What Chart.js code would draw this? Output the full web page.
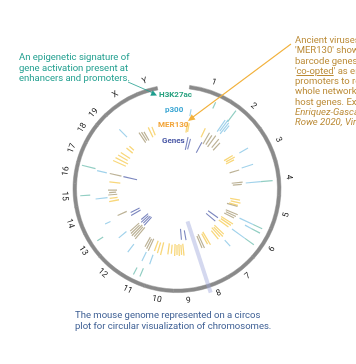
<!DOCTYPE html>
<html><head><meta charset="utf-8">
<script src="https://cdn.jsdelivr.net/npm/chart.js@4.4.0/dist/chart.umd.min.js"></script>
<style>
html,body{margin:0;padding:0;background:#fff;}
#wrap{position:relative;width:356px;height:364px;overflow:hidden;background:#fff;font-family:Roboto,"Noto Sans",sans-serif;}
canvas{position:absolute;}
#ring{left:47px;top:59px;}
#tracks{left:0;top:0;}
.note{position:absolute;font-size:9.5px;line-height:10.5px;white-space:nowrap;}
.tl{position:absolute;font-size:8px;font-weight:bold;line-height:9px;white-space:nowrap;}
svg{position:absolute;left:0;top:0;}
</style></head>
<body>
<div id="wrap">
  <canvas id="ring" width="260" height="260"></canvas>
  <canvas id="tracks" width="356" height="364"></canvas>
  <div class="note" style="left:19px;top:52px;color:#1f9e8e;">An epigenetic signature of<br>gene activation present at<br>enhancers and promoters.</div>
  <div class="note" style="left:295px;top:35px;color:#bb8a35;line-height:10.3px;">Ancient viruses called<br>'MER130' shown to<br>barcode genes were<br>'<u>co-opted</u>' as enhancers<br>promoters to regulate<br>whole networks of<br>host genes. Example:<br><i>Enriquez-Gasca &amp;</i><br><i>Rowe 2020, Viruses</i></div>
  <div class="note" style="left:75px;top:309px;color:#3a5c92;line-height:11px;">The mouse genome represented on a circos<br>plot for circular visualization of chromosomes.</div>
  <div class="tl" style="left:159px;top:90px;color:#27a17f;">H3K27ac</div>
  <div class="tl" style="left:165px;top:105px;color:#3ba6d3;">p300</div>
  <div class="tl" style="left:158px;top:119.5px;color:#f2a53a;">MER130</div>
  <div class="tl" style="left:162px;top:135.5px;color:#4a58a6;">Genes</div>
  <svg width="356" height="364">
    <line x1="128" y1="82" x2="152" y2="92.5" stroke="#1f9e8e" stroke-width="0.8"/>
    <polygon points="157,95.5 150.3,95.8 152.7,90.3" fill="#1f9e8e"/>
    <line x1="291" y1="44" x2="193" y2="117" stroke="#f2b23e" stroke-width="1.1"/>
    <polygon points="188,121 195.5,119.4 191.7,114.2" fill="#f2b23e"/>
  </svg>
</div>
<script>
// Chromosome ring
const chromosomes = ['1','2','3','4','5','6','7','8','9','10','11','12','13','14','15','16','17','18','19','X','Y'];
const chromSizes = [195,182,160,157,152,150,145,130,125,131,122,120,121,125,104,98,95,91,61,171,92];

// Tracks: angle (degrees clockwise from top), inner and outer radius of each mark
const genesAngle = [12, 15, 28, 125, 130, 170, 175, 222, 224.5, 227, 229.5, 240, 243, 283];
const genesInner = [40, 41, 41, 38, 38, 42, 40, 38, 38, 39, 38, 42, 42, 41];
const genesOuter = [53, 52, 53, 50, 50, 52, 51, 49, 48, 49, 47, 53, 52, 55];

const mer130Angle = [9, 10.5, 25, 59, 61, 63, 100, 102.5, 105, 122, 124, 126.5, 134, 136, 138, 140.5, 149, 151, 174, 176, 178, 180, 182, 185, 188, 194, 197, 200, 259.5, 262, 276, 294, 297, 300, 303, 309, 312, 335, 338];
const mer130Inner = [57, 58, 57, 55, 56, 55, 54, 55, 54, 52, 53, 52, 52, 53, 52, 54, 50, 51, 55, 56, 55, 56, 55, 56, 55, 55, 56, 55, 59, 60, 57, 56, 55, 57, 56, 57, 58, 57, 58];
const mer130Outer = [68, 67, 67, 65, 66, 64, 64, 65, 63, 66, 65, 64, 65, 66, 64, 65, 65, 63, 67, 66, 67, 66, 67, 65, 66, 68, 67, 66, 69, 68, 68, 70, 69, 68, 67, 65, 64, 68, 67];

const mer130DenseAngle = [30, 33, 36, 40, 43, 73, 84, 86, 106, 113, 115, 117, 155, 157, 205, 207, 209, 220, 222, 224, 226, 228, 246, 265, 267, 269, 283, 326, 328, 330];
const mer130DenseInner = [52, 53, 52, 54, 53, 55, 55, 56, 52, 53, 54, 53, 50, 51, 55, 56, 55, 50, 51, 50, 52, 51, 55, 60, 61, 60, 57, 56, 57, 56];
const mer130DenseOuter = [65, 64, 66, 65, 63, 65, 66, 65, 63, 66, 65, 64, 65, 64, 68, 67, 66, 65, 64, 65, 64, 63, 65, 69, 68, 69, 69, 68, 67, 66];

const p300Angle = [10, 35, 36.5, 38, 39.5, 60, 72, 85, 115, 118, 126, 137, 200, 206, 218, 230, 244, 263, 283, 316];
const p300Inner = [74, 70, 72, 70, 74, 72, 68, 69, 69, 77, 68, 70, 70, 70, 70, 66, 74, 70, 72, 72];
const p300Outer = [81, 84, 86, 84, 82, 82, 80, 84, 84, 84, 84, 78, 80, 80, 80, 76, 80, 82, 82, 83];

const h3k27acAngle = [24, 37, 85, 115, 118, 126, 203, 207, 237, 266, 284];
const h3k27acInner = [88, 84, 84, 84, 84, 84, 86, 88, 88, 87, 84];
const h3k27acOuter = [95, 98, 96, 94, 94, 95, 95, 96, 95, 97, 98];

const bandAngle = [162];
const bandInner = [34];
const bandOuter = [109];

function segments(angles, inner, outer) {
  const pts = [];
  angles.forEach((deg, i) => {
    const a = deg * Math.PI / 180;
    pts.push({x: inner[i] * Math.sin(a), y: inner[i] * Math.cos(a)});
    pts.push({x: outer[i] * Math.sin(a), y: outer[i] * Math.cos(a)});
    pts.push({x: null, y: null});
  });
  return pts;
}

function track(label, angles, inner, outer, color, width) {
  return {label, data: segments(angles, inner, outer), showLine: true, spanGaps: false,
    borderColor: color, borderWidth: width, pointRadius: 0, borderCapStyle: 'butt', tension: 0};
}

const chromLabels = {
  id: 'chromLabels',
  afterDatasetsDraw(chart) {
    const meta = chart.getDatasetMeta(0);
    const ctx = chart.ctx;
    ctx.save();
    ctx.font = '8.5px Roboto, "Noto Sans", sans-serif';
    ctx.fillStyle = '#222';
    ctx.textAlign = 'center';
    ctx.textBaseline = 'middle';
    meta.data.forEach((arc, i) => {
      const p = arc.getProps(['x', 'y', 'startAngle', 'endAngle', 'outerRadius'], true);
      const mid = (p.startAngle + p.endAngle) / 2;
      const R = p.outerRadius + 8.5;
      const px = p.x + R * Math.cos(mid), py = p.y + R * Math.sin(mid);
      let rot = mid + Math.PI / 2;
      if (Math.sin(mid) > 0.02) rot -= Math.PI;
      ctx.save();
      ctx.translate(px, py);
      ctx.rotate(rot);
      ctx.fillText(chart.data.labels[i], 0, 0);
      ctx.restore();
    });
    ctx.restore();
  }
};

new Chart(document.getElementById('ring'), {
  type: 'doughnut',
  data: {labels: chromosomes, datasets: [{data: chromSizes, backgroundColor: '#8a8a8a', borderColor: '#8a8a8a', borderWidth: 0.5}]},
  options: {
    responsive: false, animation: false, rotation: 7, circumference: 342,
    radius: 104, cutout: '96.6%',
    layout: {padding: 0},
    plugins: {legend: {display: false}, tooltip: {enabled: false}}
  },
  plugins: [chromLabels]
});

new Chart(document.getElementById('tracks'), {
  type: 'scatter',
  data: {datasets: [
    track('p300', p300Angle, p300Inner, p300Outer, 'rgba(130,195,228,0.75)', 1.2),
    track('H3K27ac', h3k27acAngle, h3k27acInner, h3k27acOuter, 'rgba(110,190,175,0.75)', 1.2),
    track('MER130', mer130Angle, mer130Inner, mer130Outer, 'rgba(246,205,90,0.8)', 1.3),
    track('MER130 dense', mer130DenseAngle, mer130DenseInner, mer130DenseOuter, 'rgba(160,145,105,0.7)', 1.2),
    track('Genes', genesAngle, genesInner, genesOuter, 'rgba(80,95,170,0.75)', 1.1),
    track('Gene highlight', bandAngle, bandInner, bandOuter, 'rgba(160,168,220,0.45)', 4)
  ]},
  options: {
    responsive: false, animation: false,
    layout: {padding: 0},
    scales: {
      x: {type: 'linear', min: -177, max: 179, display: false},
      y: {type: 'linear', min: -175, max: 189, display: false}
    },
    plugins: {legend: {display: false}, tooltip: {enabled: false}}
  }
});
</script>
</body></html>
